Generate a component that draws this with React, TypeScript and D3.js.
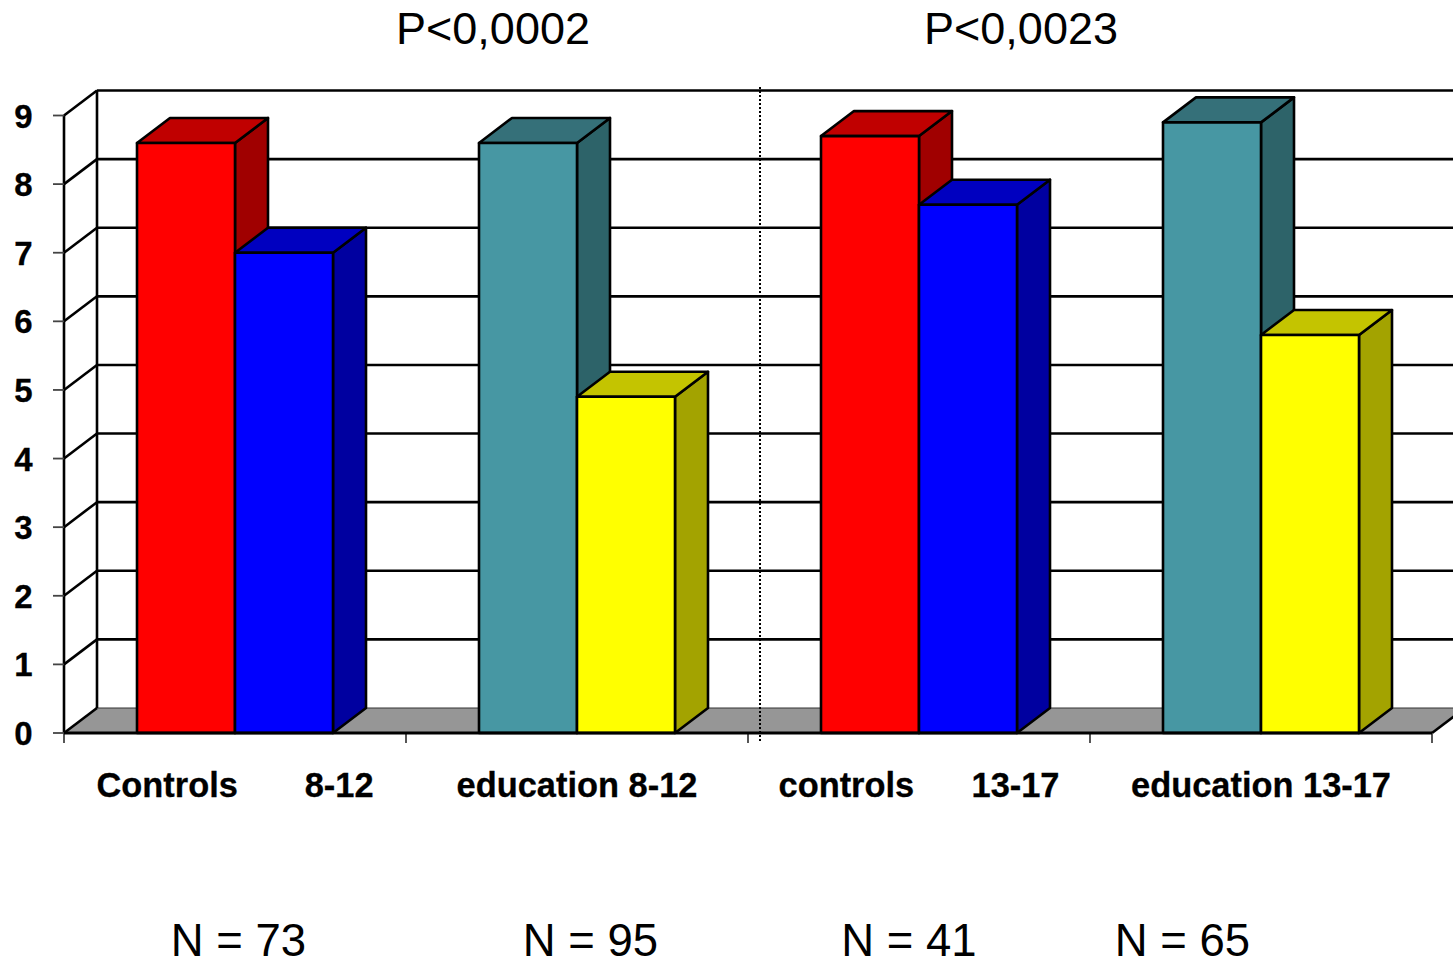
import React from "react";
import * as d3 from "d3";

const categories = ["Controls       8-12", "education 8-12", "controls      13-17", "education 13-17"];
const series1 = [8.6, 8.6, 8.7, 8.9];
const series2 = [7.0, 4.9, 7.7, 5.8];
const ticks = [0, 1, 2, 3, 4, 5, 6, 7, 8, 9];
const pLabels = ["P<0,0002", "P<0,0023"];
const nLabels = ["N = 73", "N = 95", "N = 41", "N = 65"];
const nX = [238.5, 590.5, 909, 1182.5];
const pX = [493, 1021];
const col1 = [
  { f: "#ff0000", t: "#c00000", s: "#a00000" },
  { f: "#4797a3", t: "#357079", s: "#2d6369" },
  { f: "#ff0000", t: "#c00000", s: "#a00000" },
  { f: "#4797a3", t: "#357079", s: "#2d6369" },
];
const col2 = [
  { f: "#0000ff", t: "#0000c0", s: "#0000a0" },
  { f: "#ffff00", t: "#c4c400", s: "#a3a300" },
  { f: "#0000ff", t: "#0000c0", s: "#0000a0" },
  { f: "#ffff00", t: "#c4c400", s: "#a3a300" },
];

const W = 1453, H = 958;
const DX = 33, DY = -25;
const y = d3.scaleLinear().domain([0, 9]).range([733, 115.5]);
const x = d3.scaleBand<number>().domain([0, 1, 2, 3]).range([64, 1432]);
const bw = 98;
const sans = "'Liberation Sans', Arial, sans-serif";
const LW = 2.6;

function Bar({ x0, v, c }: { x0: number; v: number; c: { f: string; t: string; s: string } }) {
  const top = y(v), base = y(0), x1 = x0 + bw;
  const poly = (pts: number[][]) => {
    const p = d3.path();
    pts.forEach(([a, b], i) => (i ? p.lineTo(a, b) : p.moveTo(a, b)));
    p.closePath();
    return p.toString();
  };
  return (
    <g stroke="#000" strokeWidth={LW} strokeLinejoin="round">
      <path d={poly([[x1, top], [x1 + DX, top + DY], [x1 + DX, base + DY], [x1, base]])} fill={c.s} />
      <path d={poly([[x0, top], [x0 + DX, top + DY], [x1 + DX, top + DY], [x1, top]])} fill={c.t} />
      <rect x={x0} y={top} width={bw} height={base - top} fill={c.f} />
    </g>
  );
}

export default function App() {
  const floorP = d3.path();
  floorP.moveTo(64, 733); floorP.lineTo(64 + DX, 733 + DY); floorP.lineTo(W + 40, 733 + DY); floorP.lineTo(1432 + DX, 733 + DY); floorP.lineTo(1432, 733); floorP.closePath();
  return (
    <svg width={W} height={H} viewBox={`0 0 ${W} ${H}`} style={{ position: "absolute", left: 0, top: 0, background: "#fff" }}>
      {ticks.filter((t) => t > 0).map((t) => (
        <g key={t} stroke="#000" strokeWidth={LW}>
          <line x1={64 + DX} x2={W} y1={y(t) + DY} y2={y(t) + DY} />
          <line x1={64} x2={64 + DX} y1={y(t)} y2={y(t) + DY} />
        </g>
      ))}
      <path d={floorP.toString()} fill="#969696" />
      <line x1={1432} y1={733} x2={1432 + DX} y2={733 + DY} stroke="#000" strokeWidth={LW} />
      <line x1={64} y1={733} x2={64 + DX} y2={733 + DY} stroke="#000" strokeWidth={LW} />
      <line x1={97} x2={W} y1={733 + DY} y2={733 + DY} stroke="#333" strokeWidth={1} />
      <line x1={64 + DX} x2={64 + DX} y1={y(9) + DY} y2={y(0) + DY} stroke="#000" strokeWidth={LW} />
      <line x1={64} x2={64} y1={y(9)} y2={y(0)} stroke="#000" strokeWidth={LW} />
      {ticks.map((t) => (
        <line key={t} x1={53} x2={64} y1={y(t)} y2={y(t)} stroke="#444" strokeWidth={1.8} />
      ))}
      {[0, 1, 2, 3, 4].map((i) => {
        const px = 64 + i * x.step();
        return <line key={i} x1={px} x2={px} y1={733} y2={743} stroke="#444" strokeWidth={1.8} />;
      })}
      {categories.map((_, i) => {
        const x0 = (x(i) as number) + 73;
        return (
          <g key={i}>
            <Bar x0={x0} v={series1[i]} c={col1[i]} />
            <Bar x0={x0 + bw} v={series2[i]} c={col2[i]} />
          </g>
        );
      })}
      <line x1={64} x2={1432} y1={733} y2={733} stroke="#000" strokeWidth={3.2} />
      <line x1={760} x2={760} y1={87} y2={743} stroke="#000" strokeWidth={2} strokeDasharray="2 2" />
      {ticks.map((t) => (
        <text key={t} x={32.5} y={y(t) + 12} textAnchor="end" fontFamily={sans} fontWeight={700} fontSize={33} fill="#000" stroke="#000" strokeWidth={0.3}>{t}</text>
      ))}
      {categories.map((c, i) => (
        <text key={i} x={(x(i) as number) + x.bandwidth() / 2} y={797} textAnchor="middle" fontFamily={sans} fontWeight={700} fontSize={34.4} fill="#000" stroke="#000" strokeWidth={0.3} style={{ whiteSpace: "pre" }}>{c}</text>
      ))}
      {pLabels.map((p, i) => (
        <text key={i} x={pX[i]} y={44} textAnchor="middle" fontFamily={sans} fontSize={45} fill="#000">{p}</text>
      ))}
      {nLabels.map((n, i) => (
        <text key={i} x={nX[i]} y={956} textAnchor="middle" fontFamily={sans} fontSize={45.5} fill="#000">{n}</text>
      ))}
    </svg>
  );
}
